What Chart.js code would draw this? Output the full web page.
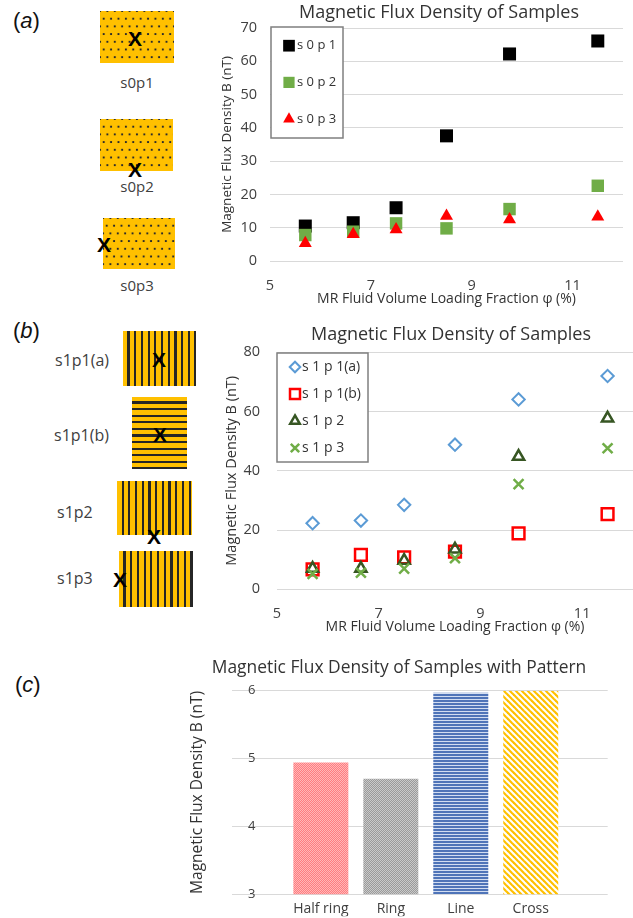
<!DOCTYPE html>
<html lang="en">
<head>
  <meta charset="UTF-8" />
  <title>Magnetic Flux Density of Samples</title>
  <script src="https://cdn.jsdelivr.net/npm/chart.js"></script>
  <style>
    body {
      margin: 0;
      background: #fff;
      font-family: 'Open Sans', sans-serif;
      color: #333;
    }

    #fig {
      position: relative;
      width: 633px;
      height: 918px;
      overflow: hidden;
    }

    canvas {
      position: absolute;
    }

    .tag {
      position: absolute;
      font-family: 'Liberation Sans', Arial, sans-serif;
      font-size: 22px;
      line-height: 26px;
      color: #111;
    }

    .sample {
      position: absolute;
      background-color: #FFC000;
    }

    .dots {
      background-image:
        radial-gradient(circle, #2b2b2b 0.9px, transparent 1.5px),
        radial-gradient(circle, #2b2b2b 0.9px, transparent 1.5px);
      background-size: 7.4px 15.4px;
      background-position: 0 0, 3.7px 7.7px;
    }

    .vlines {
      background-image: repeating-linear-gradient(90deg, #FFC000 0 4.5px, #262626 4.5px 6.7px);
    }

    .hlines {
      background-image: repeating-linear-gradient(180deg, #FFC000 0 4.4px, #262626 4.4px 6.6px);
    }

    .mark {
      position: absolute;
      font: bold 21px 'Liberation Sans', Arial, sans-serif;
      color: #000;
      transform: translate(-50%, -50%);
    }

    .lbl {
      position: absolute;
      font-size: 15px;
      color: #404040;
      transform: translate(-50%, -50%);
      white-space: nowrap;
    }

    .lbl.left {
      font-size: 16px;
      transform: translate(0, -50%);
    }
  </style>
</head>
<body>
  <div id="fig">
    <!-- (a) dotted samples -->
    <div class="tag" style="left:13px; top:8px;">(<i>a</i>)</div>
    <div class="sample dots" style="left:100px; top:11px; width:74px; height:52px;"></div>
    <div class="mark" style="left:135px; top:39px;">X</div>
    <div class="lbl" style="left:137px; top:82px;">s0p1</div>
    <div class="sample dots" style="left:100px; top:119px; width:73px; height:52px;"></div>
    <div class="mark" style="left:135px; top:170px;">X</div>
    <div class="lbl" style="left:137px; top:186px;">s0p2</div>
    <div class="sample dots" style="left:103px; top:218px; width:72px; height:51px;"></div>
    <div class="mark" style="left:104px; top:245px;">X</div>
    <div class="lbl" style="left:137px; top:285px;">s0p3</div>

    <!-- (b) striped samples -->
    <div class="tag" style="left:13px; top:318px;">(<i>b</i>)</div>
    <div class="lbl left" style="left:55px; top:360px;">s1p1(a)</div>
    <div class="sample vlines" style="left:123px; top:331px; width:73px; height:55px;"></div>
    <div class="mark" style="left:159px; top:360px;">X</div>
    <div class="lbl left" style="left:54px; top:435px;">s1p1(b)</div>
    <div class="sample hlines" style="left:132px; top:397px; width:55px; height:72px;"></div>
    <div class="mark" style="left:160px; top:435px;">X</div>
    <div class="lbl left" style="left:57px; top:512px;">s1p2</div>
    <div class="sample vlines" style="left:117px; top:481px; width:75px; height:54px;"></div>
    <div class="mark" style="left:154px; top:537px;">X</div>
    <div class="lbl left" style="left:57px; top:578px;">s1p3</div>
    <div class="sample vlines" style="left:119px; top:551px; width:74px; height:56px;"></div>
    <div class="mark" style="left:120px; top:580px;">X</div>

    <div class="tag" style="left:15px; top:672px;">(<i>c</i>)</div>

    <canvas id="chartA" width="478" height="310" style="left:200px; top:0px;"></canvas>
    <canvas id="chartB" width="502" height="330" style="left:200px; top:310px;"></canvas>
    <canvas id="chartC" width="468" height="278" style="left:165px; top:640px;"></canvas>
  </div>

  <script>
    // loading fraction (%) of the six samples
    const phi = [5.7, 6.65, 7.5, 8.5, 9.75, 11.5];
    const phiTicks = [5, 7, 9, 11];

    // panel (a): dotted pattern, B in nT
    const s0p1 = [10.5, 11.5, 16, 37.6, 62.2, 66.1];
    const s0p2 = [7.8, 8.8, 11.3, 9.8, 15.6, 22.6];
    const s0p3 = [5.3, 8, 9.5, 13.5, 12.5, 13.3];
    const bTicksA = [0, 10, 20, 30, 40, 50, 60, 70];

    // panel (b): striped pattern, B in nT
    const s1p1a = [22.3, 23.2, 28.5, 48.8, 64.1, 72];
    const s1p1b = [6.7, 11.6, 10.8, 12.7, 18.9, 25.4];
    const s1p2 = [7, 7, 9.7, 13.5, 44.8, 57.7];
    const s1p3 = [5.2, 5.6, 7, 10.5, 35.5, 47.6];
    const bTicksB = [0, 20, 40, 60, 80];

    // panel (c): samples with pattern
    const patternNames = ['Half ring', 'Ring', 'Line', 'Cross'];
    const patternB = [4.94, 4.70, 5.97, 6.0];
    const bTicksC = [3, 4, 5, 6];

    Chart.defaults.font.family = "'Open Sans', sans-serif";
    Chart.defaults.color = '#404040';

    const pts = ys => ys.map((y, i) => ({ x: phi[i], y }));

    // empty axis on the right, only to reserve space so the title centres like the original
    const spacer = w => ({
      position: 'right',
      grid: { display: false },
      border: { display: false },
      ticks: { display: false },
      afterFit: s => { s.width = w; }
    });

    // legend drawn as a framed box inside the plot
    const boxLegend = {
      id: 'boxLegend',
      afterDatasetsDraw(chart, args, o) {
        if (!o || !o.boxW) return;
        const ctx = chart.ctx;
        ctx.save();
        ctx.fillStyle = '#fff';
        ctx.fillRect(o.boxX, o.boxY, o.boxW, o.boxH);
        ctx.strokeStyle = '#7f7f7f';
        ctx.lineWidth = 1.5;
        ctx.strokeRect(o.boxX, o.boxY, o.boxW, o.boxH);
        ctx.font = o.fontSize + "px 'Open Sans', sans-serif";
        ctx.textBaseline = 'middle';
        chart.data.datasets.forEach((ds, i) => {
          const y = o.rowY + i * o.rowStep;
          ctx.fillStyle = ds.pointBackgroundColor;
          ctx.strokeStyle = ds.pointBorderColor;
          ctx.lineWidth = ds.pointBorderWidth;
          Chart.helpers.drawPoint(ctx, {
            pointStyle: ds.pointStyle,
            radius: ds.pointRadius * o.markerScale,
            rotation: 0,
            borderWidth: ds.pointBorderWidth
          }, o.markerX, y);
          ctx.fillStyle = '#333';
          ctx.fillText(ds.label, o.textX, y);
        });
        ctx.restore();
      }
    };
    Chart.register(boxLegend);

    function scatterOptions(c) {
      return {
        responsive: false,
        animation: false,
        plugins: {
          legend: { display: false },
          tooltip: { enabled: false },
          title: {
            display: true,
            text: 'Magnetic Flux Density of Samples',
            color: '#333',
            font: { size: 18, weight: 'normal' },
            padding: { top: c.titleTop, bottom: c.titleBottom }
          },
          boxLegend: c.legend
        },
        scales: {
          x: {
            type: 'linear',
            min: phiTicks[0],
            max: 12,
            afterBuildTicks: s => { s.ticks = phiTicks.map(v => ({ value: v })); },
            afterFit: s => { s.height = c.xHeight; },
            grid: { display: false },
            border: { display: false },
            ticks: { font: { size: 14.5 }, padding: c.xTickPad },
            title: {
              display: true,
              text: 'MR Fluid Volume Loading Fraction φ (%)',
              color: '#333',
              font: { size: 14 },
              padding: { top: 0, bottom: c.xTitlePad }
            }
          },
          y: {
            min: c.yTicks[0],
            max: c.yTicks[c.yTicks.length - 1],
            afterBuildTicks: s => { s.ticks = c.yTicks.map(v => ({ value: v })); },
            afterFit: s => { s.width = c.yWidth; },
            grid: { color: '#d9d9d9', drawTicks: false },
            border: { display: false },
            ticks: { font: { size: 14.5 }, padding: c.yTickPad },
            title: {
              display: true,
              text: 'Magnetic Flux Density B (nT)',
              color: '#333',
              font: { size: c.yTitleSize },
              padding: { top: c.yTitlePad, bottom: 0 }
            }
          },
          yPad: spacer(c.padRight)
        }
      };
    }

    new Chart(document.getElementById('chartA'), {
      type: 'scatter',
      data: {
        datasets: [
          { label: 's 0 p 1', data: pts(s0p1), order: 3, pointStyle: 'rect', pointRadius: 9.2,
            pointBackgroundColor: '#000', pointBorderColor: '#000', pointBorderWidth: 0 },
          { label: 's 0 p 2', data: pts(s0p2), order: 2, pointStyle: 'rect', pointRadius: 8.8,
            pointBackgroundColor: '#70AD47', pointBorderColor: '#70AD47', pointBorderWidth: 0 },
          { label: 's 0 p 3', data: pts(s0p3), order: 1, pointStyle: 'triangle', pointRadius: 7.5,
            pointBackgroundColor: '#FF0000', pointBorderColor: '#FF0000', pointBorderWidth: 0 }
        ]
      },
      options: scatterOptions({
        padRight: 55, titleTop: 2.2, titleBottom: 4.2,
        xHeight: 49, xTickPad: 8, xTitlePad: 2.6,
        yWidth: 70, yTickPad: 13, yTitlePad: 18.9, yTitleSize: 13.5, yTicks: bTicksA,
        legend: { boxX: 71, boxY: 27, boxW: 72, boxH: 111, rowY: 45.7, rowStep: 36.7,
                  markerX: 89, textX: 97, fontSize: 13, markerScale: 0.9 }
      })
    });

    new Chart(document.getElementById('chartB'), {
      type: 'scatter',
      data: {
        datasets: [
          { label: 's 1 p 1(a)', data: pts(s1p1a), order: 4, pointStyle: 'rectRot', pointRadius: 6.2,
            pointBackgroundColor: 'rgba(0,0,0,0)', pointBorderColor: '#5B9BD5', pointBorderWidth: 2 },
          { label: 's 1 p 1(b)', data: pts(s1p1b), order: 3, pointStyle: 'rect', pointRadius: 8.3,
            pointBackgroundColor: 'rgba(0,0,0,0)', pointBorderColor: '#FF0000', pointBorderWidth: 2.5 },
          { label: 's 1 p 2', data: pts(s1p2), order: 2, pointStyle: 'triangle', pointRadius: 6.5,
            pointBackgroundColor: 'rgba(0,0,0,0)', pointBorderColor: '#375623', pointBorderWidth: 2.5 },
          { label: 's 1 p 3', data: pts(s1p3), order: 1, pointStyle: 'crossRot', pointRadius: 7,
            pointBackgroundColor: 'rgba(0,0,0,0)', pointBorderColor: '#70AD47', pointBorderWidth: 2.5 }
        ]
      },
      options: scatterOptions({
        padRight: 69, titleTop: 14.2, titleBottom: 6.5,
        xHeight: 50.7, xTickPad: 8, xTitlePad: 4.6,
        yWidth: 77, yTickPad: 17, yTitlePad: 23.3, yTitleSize: 14.5, yTicks: bTicksB,
        legend: { boxX: 77, boxY: 43, boxW: 91, boxH: 109, rowY: 57, rowStep: 27,
                  markerX: 95, textX: 102, fontSize: 14, markerScale: 0.85 }
      })
    });

    // fill patterns for the bars
    function makePattern(w, h, draw) {
      const c = document.createElement('canvas');
      c.width = w;
      c.height = h;
      const g = c.getContext('2d');
      draw(g, w, h);
      return g.createPattern(c, 'repeat');
    }

    const halfRingFill = makePattern(4, 4, (g, w, h) => {
      g.fillStyle = '#FFB8B8';
      g.fillRect(0, 0, w, h);
      g.fillStyle = '#FF7C80';
      for (let y = 0; y < h; y++)
        for (let x = 0; x < w; x++)
          if ((x + y) % 2 === 0) g.fillRect(x, y, 1, 1);
    });

    const ringFill = makePattern(4, 4, (g, w, h) => {
      g.fillStyle = '#CACACA';
      g.fillRect(0, 0, w, h);
      g.fillStyle = '#9A9A9A';
      for (let i = 0; i < 4; i++) {
        g.fillRect(i, i, 1, 1);
        g.fillRect(i, (i + 2) % 4, 1, 1);
      }
    });

    const lineFill = makePattern(4, 3, (g, w, h) => {
      g.fillStyle = '#D2DDF1';
      g.fillRect(0, 0, w, h);
      g.fillStyle = '#4F74B8';
      g.fillRect(0, 0, w, 2);
    });

    const crossFill = makePattern(6, 6, (g, w, h) => {
      g.fillStyle = '#fff';
      g.fillRect(0, 0, w, h);
      g.strokeStyle = '#FFC000';
      g.lineWidth = 2.2;
      for (let k = -1; k <= 1; k++) {
        g.beginPath();
        g.moveTo(k * w - 1, -1);
        g.lineTo(k * w + w + 1, h + 1);
        g.stroke();
      }
    });

    new Chart(document.getElementById('chartC'), {
      type: 'bar',
      data: {
        datasets: [{
          data: patternB.map((v, i) => ({ x: i + 1, y: v })),
          backgroundColor: [halfRingFill, ringFill, lineFill, crossFill],
          borderWidth: 0,
          categoryPercentage: 1,
          barPercentage: 0.786
        }]
      },
      options: {
        responsive: false,
        animation: false,
        plugins: {
          legend: { display: false },
          tooltip: { enabled: false },
          title: {
            display: true,
            text: 'Magnetic Flux Density of Samples with Pattern',
            color: '#333',
            font: { size: 17.4, weight: 'normal' },
            padding: { top: 17.6, bottom: 12.2 }
          }
        },
        scales: {
          x: {
            type: 'linear',
            min: -0.27,
            max: 5.1,
            offset: false,
            afterBuildTicks: s => { s.ticks = patternNames.map((n, i) => ({ value: i + 1 })); },
            afterFit: s => { s.height = 22; },
            grid: { display: false },
            border: { display: false },
            ticks: {
              font: { size: 14 },
              padding: -2,
              autoSkip: false,
              maxRotation: 0,
              callback: v => patternNames[v - 1] || ''
            }
          },
          y: {
            min: bTicksC[0],
            max: bTicksC[bTicksC.length - 1],
            afterBuildTicks: s => { s.ticks = bTicksC.map(v => ({ value: v })); },
            afterFit: s => { s.width = 67; },
            grid: { color: '#d9d9d9', drawTicks: false },
            border: { display: false },
            ticks: { font: { size: 13 }, mirror: true, padding: 16 },
            title: {
              display: true,
              text: 'Magnetic Flux Density B (nT)',
              color: '#333',
              font: { size: 15.5 },
              padding: { top: 23.7, bottom: 0 }
            }
          },
          yPad: spacer(25.3)
        }
      }
    });
  </script>
</body>
</html>
